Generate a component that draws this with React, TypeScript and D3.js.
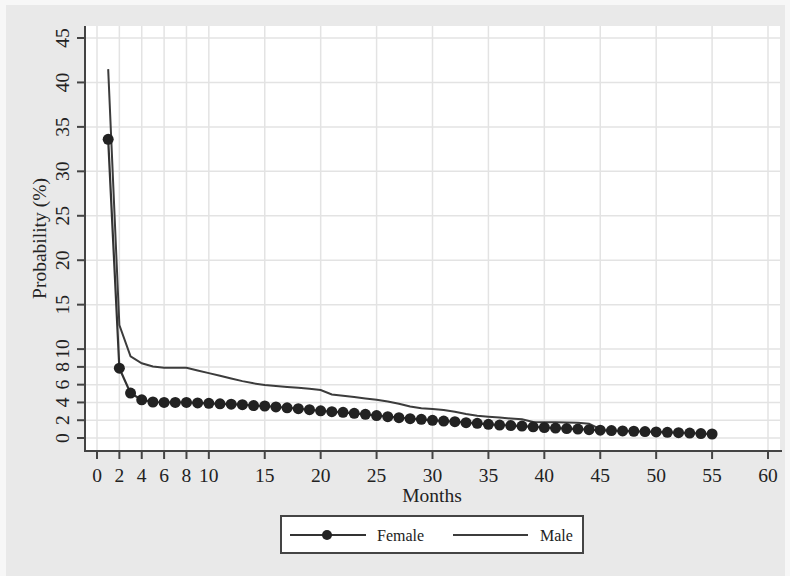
import React from "react";
import * as d3 from "d3";

const femaleMonths = d3.range(1, 56);
const femaleValues = [
  33.6, 7.85, 5.05, 4.3, 4.05, 4.0, 4.0, 4.0, 3.95, 3.9,
  3.85, 3.8, 3.75, 3.65, 3.6, 3.5, 3.4, 3.3, 3.18, 3.06,
  2.96, 2.89, 2.78, 2.66, 2.52, 2.4, 2.29, 2.17, 2.1, 1.99,
  1.91, 1.84, 1.72, 1.65, 1.54, 1.46, 1.4, 1.34, 1.26, 1.18,
  1.12, 1.06, 1.0, 0.94, 0.88, 0.84, 0.8, 0.76, 0.72, 0.68,
  0.64, 0.6, 0.56, 0.5, 0.45,
];
const maleMonths = d3.range(1, 46);
const maleValues = [
  41.5, 12.7, 9.2, 8.4, 8.05, 7.9, 7.9, 7.9, 7.6, 7.3,
  7.0, 6.7, 6.4, 6.15, 5.95, 5.85, 5.75, 5.65, 5.55, 5.4,
  4.9, 4.75, 4.6, 4.45, 4.3, 4.1, 3.85, 3.55, 3.35, 3.25,
  3.15, 2.95, 2.7, 2.5, 2.4, 2.3, 2.2, 2.1, 1.8, 1.78,
  1.76, 1.74, 1.72, 1.6, 1.0,
];
const xTicks = [0, 2, 4, 6, 8, 10, 15, 20, 25, 30, 35, 40, 45, 50, 55, 60];
const yTicks = [0, 2, 4, 6, 8, 10, 15, 20, 25, 30, 35, 40, 45];
const seriesNames = ["Female", "Male"];

const FONT = "'Liberation Serif', 'Times New Roman', serif";

export default function App() {
  const W = 790, H = 576;
  const plotL = 85, plotR = 780, plotT = 26, plotB = 451;
  const x = d3.scaleLinear().domain([0, 60]).range([97, 768]);
  const y = d3.scaleLinear().domain([0, 45]).range([438, 38]);
  const line = d3.line<[number, number]>().x((d) => x(d[0])).y((d) => y(d[1]));
  const female: [number, number][] = femaleMonths.map((m, i) => [m, femaleValues[i]]);
  const male: [number, number][] = maleMonths.map((m, i) => [m, maleValues[i]]);
  const axisColor = "#444";
  const gridColor = "#e3e3e3";

  return (
    <svg width={W} height={H} style={{ position: "absolute", left: 0, top: 0 }} fontFamily={FONT}>
      <rect x={0} y={0} width={W} height={H} fill="#f7f7f7" />
      <rect x={6} y={5} width={779} height={H - 5} fill="#e9e9e9" />
      <rect x={plotL} y={plotT} width={plotR - plotL} height={plotB - plotT} fill="#ffffff" />
      {xTicks.map((t) => (
        <line key={"gx" + t} x1={x(t)} x2={x(t)} y1={plotT} y2={plotB} stroke={gridColor} strokeWidth={1.5} />
      ))}
      {yTicks.map((t) => (
        <line key={"gy" + t} x1={plotL} x2={plotR} y1={y(t)} y2={y(t)} stroke={gridColor} strokeWidth={1.5} />
      ))}
      <path d={line(male) || ""} fill="none" stroke="#3c3c3c" strokeWidth={2} />
      <path d={line(female) || ""} fill="none" stroke="#333" strokeWidth={2.2} />
      {female.map((d, i) => (
        <circle key={"f" + i} cx={x(d[0])} cy={y(d[1])} r={5.5} fill="#222" />
      ))}
      <line x1={plotL} x2={plotL} y1={plotT} y2={plotB + 1} stroke={axisColor} strokeWidth={2} />
      <line x1={plotL - 1} x2={plotR + 2} y1={plotB} y2={plotB} stroke={axisColor} strokeWidth={2} />
      {yTicks.map((t) => (
        <g key={"yt" + t}>
          <line x1={77} x2={plotL} y1={y(t)} y2={y(t)} stroke={axisColor} strokeWidth={2} />
          <text
            transform={`translate(69,${y(t)}) rotate(-90)`}
            textAnchor="middle"
            fontSize={19.5}
            fill="#222"
          >
            {t}
          </text>
        </g>
      ))}
      {xTicks.map((t) => (
        <g key={"xt" + t}>
          <line x1={x(t)} x2={x(t)} y1={plotB} y2={459} stroke={axisColor} strokeWidth={2} />
          <text x={x(t)} y={482} textAnchor="middle" fontSize={19.5} fill="#222">
            {t}
          </text>
        </g>
      ))}
      <text x={432} y={502} textAnchor="middle" fontSize={19.5} fill="#222">Months</text>
      <text transform={`translate(46,${(plotT + plotB) / 2}) rotate(-90)`} textAnchor="middle" fontSize={19.5} fill="#222">
        Probability (%)
      </text>
      <rect x={281} y={516} width={302} height={37} fill="#fff" stroke={axisColor} strokeWidth={2} />
      <line x1={290} x2={366} y1={535} y2={535} stroke="#333" strokeWidth={2.2} />
      <circle cx={327} cy={535} r={5} fill="#222" />
      <text x={377} y={541} fontSize={16} fill="#222">{seriesNames[0]}</text>
      <line x1={453} x2={528} y1={535} y2={535} stroke="#3c3c3c" strokeWidth={2} />
      <text x={540} y={541} fontSize={16} fill="#222">{seriesNames[1]}</text>
    </svg>
  );
}
